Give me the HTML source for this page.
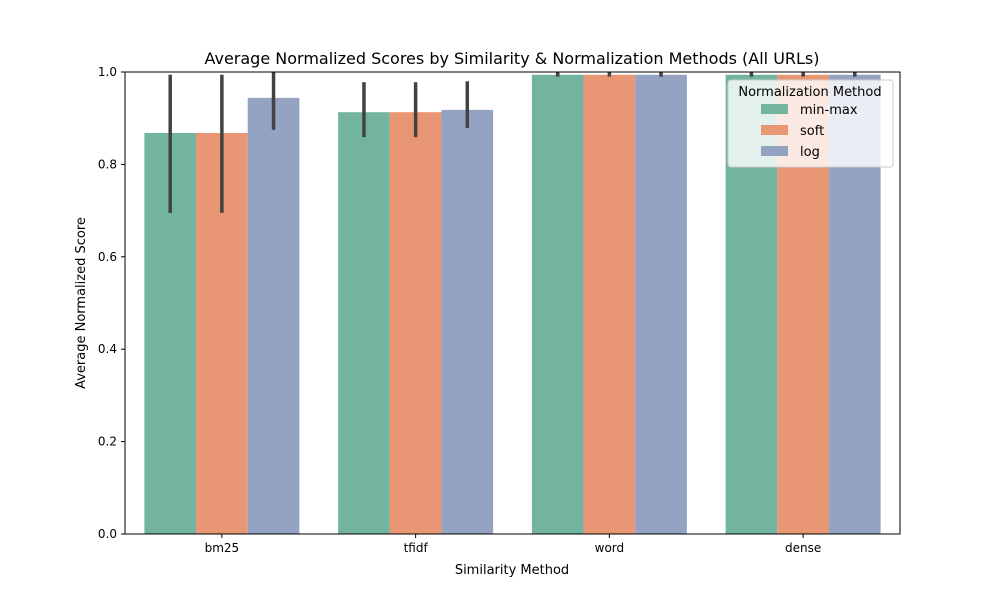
<!DOCTYPE html>
<html><head><meta charset="utf-8"><style>
body{margin:0;background:#fff;font-family:"DejaVu Sans","Liberation Sans",sans-serif}
</style></head><body>
<svg id="chart" width="1000" height="600" xmlns="http://www.w3.org/2000/svg" font-family="DejaVu Sans, Liberation Sans, sans-serif"></svg>
<script>
const categories=["bm25","tfidf","word","dense"];
const seriesNames=["min-max","soft","log"];
const minmaxValues=[0.868,0.913,0.994,0.994];
const softValues=[0.868,0.913,0.994,0.994];
const logValues=[0.944,0.918,0.994,0.994];
const minmaxErrLow=[0.695,0.859,0.99,0.99];
const minmaxErrHigh=[0.994,0.978,1.0,1.0];
const softErrLow=[0.695,0.859,0.99,0.99];
const softErrHigh=[0.994,0.978,1.0,1.0];
const logErrLow=[0.875,0.879,0.99,0.99];
const logErrHigh=[1.0,0.98,1.0,1.0];
const yTicks=[0,0.2,0.4,0.6,0.8,1.0];
const colors=["#73b4a0","#e99674","#94a3c2"];
const values=[minmaxValues,softValues,logValues];
const errLow=[minmaxErrLow,softErrLow,logErrLow];
const errHigh=[minmaxErrHigh,softErrHigh,logErrHigh];
const X0=125,X1=900,Y0=534,Y1=72;
const svg=document.getElementById('chart');
const NS="http://www.w3.org/2000/svg";
function y(v){return Y0-(v)*(Y0-Y1);}
const gw=(X1-X0)/categories.length, bw=gw*0.8/3;
function xc(i){return X0+gw*(i+0.5);}
function mk(t,a,txt){const e=document.createElementNS(NS,t);for(const k in a)e.setAttribute(k,a[k]);if(txt!==undefined)e.textContent=txt;svg.appendChild(e);return e;}
let e;
e=mk('text',{x:512,y:64,'text-anchor':'middle','font-size':16},'Average Normalized Scores by Similarity & Normalization Methods (All URLs)');


for(let s=0;s<3;s++){for(let i=0;i<categories.length;i++){
 const bx=xc(i)-gw*0.4+bw*s;
 e=mk('rect',{x:bx,y:y(values[s][i]),width:bw,height:y(0)-y(values[s][i]),fill:colors[s]});
 
 
}}
for(let s=0;s<3;s++){for(let i=0;i<categories.length;i++){
 const cx=xc(i)-gw*0.4+bw*(s+0.5);
 e=mk('line',{x1:cx,x2:cx,y1:y(Math.min(errHigh[s][i],1.0)),y2:y(errLow[s][i]),stroke:'#424242','stroke-width':3.5});
 
 
}}
e=mk('rect',{x:X0,y:Y1,width:X1-X0,height:Y0-Y1,fill:'none',stroke:'#000','stroke-width':1});


for(const t of yTicks){
 mk('line',{x1:X0-4,x2:X0,y1:y(t),y2:y(t),stroke:'#000'});
 e=mk('text',{x:X0-8,y:y(t)+4,'text-anchor':'end','font-size':12},t.toFixed(1));
 
 
}
categories.forEach((c,i)=>{
 mk('line',{x1:xc(i),x2:xc(i),y1:Y0,y2:Y0+4,stroke:'#000'});
 e=mk('text',{x:xc(i),y:Y0+18,'text-anchor':'middle','font-size':12},c);
 
 
});
e=mk('text',{x:512,y:574,'text-anchor':'middle','font-size':13},'Similarity Method');


e=mk('text',{x:85,y:303,'text-anchor':'middle','font-size':13,transform:'rotate(-90 85 303)'},'Average Normalized Score');


e=mk('rect',{x:728,y:80,width:165,height:87,rx:3,fill:'#fff','fill-opacity':0.8,stroke:'#ccc'});


mk('text',{x:810,y:96,'text-anchor':'middle','font-size':13},'Normalization Method');
seriesNames.forEach((n,s)=>{
 e=mk('rect',{x:761,y:104+s*21,width:27,height:10,fill:colors[s]});
 
 
 e=mk('text',{x:800,y:114+s*21,'font-size':13},n);
 
 
});
</script>
</body></html>
